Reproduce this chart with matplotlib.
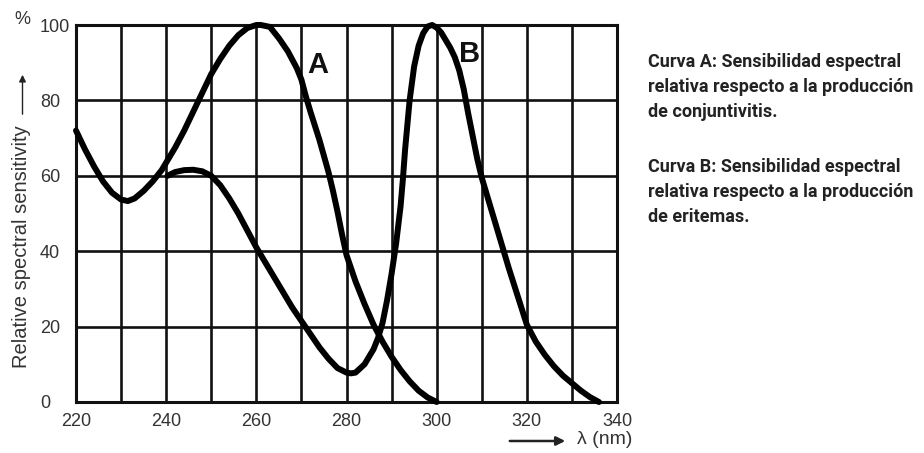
import matplotlib
matplotlib.use('Agg')
import matplotlib.pyplot as plt

W, H = 924, 453

# Curva A: conjuntivitis (nm, %)
a_nm = [220, 221, 222, 224, 226, 228, 230, 231.5, 233, 235, 237, 239, 240, 242, 244,
        246, 248, 250, 252, 254, 256, 258, 260, 261, 263, 265, 267, 269, 270, 271,
        272, 274, 276, 277, 278, 279, 280, 282, 284, 286, 288, 290, 292, 294, 296,
        298, 300]
a_val = [72, 69.5, 67, 62.5, 58.5, 55.5, 53.7, 53.3, 54, 56, 58.5, 61.5, 63.5, 67.5, 72,
         77, 82, 87, 91, 94.5, 97.3, 99.2, 100, 100, 99.5, 96.5, 93, 88.5, 85.5, 81,
         77, 69.5, 61, 56, 50.5, 44.5, 39, 32, 26, 20.5, 16, 12, 8.5, 5.5, 3,
         1.2, 0]

# Curva B: eritemas (nm, %)
b_nm = [240.3, 242, 244, 246, 248, 250, 252, 254, 256, 258, 260, 262, 264, 266, 268,
        270, 272, 274, 276, 278, 280, 281, 282, 284, 286, 287, 288, 289, 290, 291,
        292, 292.5, 293, 294, 295, 296, 297, 298, 299, 300, 301, 302, 303, 304, 305,
        306, 307, 308, 309, 310, 312, 314, 316, 318, 320, 322, 324, 326, 328, 330,
        332, 334, 336]
b_val = [60, 61, 61.5, 61.6, 61.2, 60, 57.5, 54, 50, 45.5, 41, 37, 33, 29, 25,
         21.5, 18, 14.5, 11.5, 9, 7.8, 7.6, 7.8, 10, 14, 17, 21, 27, 34, 42,
         52, 59, 67, 80, 89, 94.5, 97.8, 99.6, 100, 99.3, 98, 96, 94, 91.5, 88,
         83, 76.5, 70.5, 64.5, 59.5, 51.5, 43.5, 35.5, 28, 20.5, 16, 12.5, 9.5, 7, 5,
         3, 1.3, 0]

x_major = [220, 240, 260, 280, 300, 320, 340]
x_minor = [230, 250, 270, 290, 310, 330]
y_ticks = [0, 20, 40, 60, 80, 100]

texto_a = ['Curva A: Sensibilidad espectral',
           'relativa respecto a la producción',
           'de conjuntivitis.']
texto_b = ['Curva B: Sensibilidad espectral',
           'relativa respecto a la producción',
           'de eritemas.']

plt.rcParams['font.family'] = ['Liberation Sans', 'DejaVu Sans']

fig = plt.figure(figsize=(W / 100, H / 100), dpi=100)
ax = fig.add_axes([76 / W, 1 - 402 / H, (617 - 76) / W, (402 - 25) / H])

ax.set_xlim(220, 340)
ax.set_ylim(0, 100)
ax.set_xticks(x_major)
ax.set_xticks(x_minor, minor=True)
ax.set_yticks(y_ticks)
ax.grid(which='both', axis='x', color='#111111', lw=1.9)
ax.grid(which='major', axis='y', color='#111111', lw=1.9)
ax.set_axisbelow(True)
for s in ax.spines.values():
    s.set_linewidth(2.2)
    s.set_color('#111111')

ax.tick_params(axis='both', which='both', length=0, labelsize=13, labelcolor='#333333')
ax.tick_params(axis='x', pad=8)
ax.tick_params(axis='y', pad=26)
plt.setp(ax.get_yticklabels(), ha='left')

ax.plot(a_nm, a_val, color='black', lw=4.3, solid_joinstyle='round',
        solid_capstyle='round', clip_on=False, zorder=3)
ax.plot(b_nm, b_val, color='black', lw=4.3, solid_joinstyle='round',
        solid_capstyle='round', clip_on=False, zorder=3)

ax.text(273.7, 89.5, 'A', ha='center', va='center', fontsize=21, fontweight='bold',
        color='#111111')
ax.text(307.2, 92.3, 'B', ha='center', va='center', fontsize=21, fontweight='bold',
        color='#111111')

# "%" before the 100 label
fig.text(14 / W, 1 - 20 / H, '%', ha='left', va='center', fontsize=13, color='#333333')

# y axis label with arrow
fig.text(21.5 / W, 1 - 247 / H, 'Relative spectral sensitivity', rotation=90,
         ha='center', va='center', fontsize=14.5, color='#333333')
fig.add_artist(matplotlib.patches.FancyArrowPatch(
    (22.5 / W, 1 - 117 / H), (22.5 / W, 1 - 72 / H), transform=fig.transFigure,
    arrowstyle='-|>', mutation_scale=10, lw=1, color='#222222'))

# x axis arrow and label
fig.add_artist(matplotlib.patches.FancyArrowPatch(
    (507 / W, 1 - 441 / H), (568 / W, 1 - 441 / H), transform=fig.transFigure,
    arrowstyle='-|>', mutation_scale=13, lw=1.8, color='#222222'))
fig.text(577 / W, 1 - 440 / H, 'λ (nm)', ha='left', va='center', fontsize=14, color='#333333')

# notes on the right
for i, line in enumerate(texto_a):
    fig.text(648 / W, 1 - (62 + 25 * i) / H, line, ha='left', va='center',
             fontsize=13, fontfamily='Roboto', fontweight='bold', color='#222222')
for i, line in enumerate(texto_b):
    fig.text(648 / W, 1 - (167 + 25 * i) / H, line, ha='left', va='center',
             fontsize=13, fontfamily='Roboto', fontweight='bold', color='#222222')

fig.savefig('out.png', dpi=100, facecolor='white')
